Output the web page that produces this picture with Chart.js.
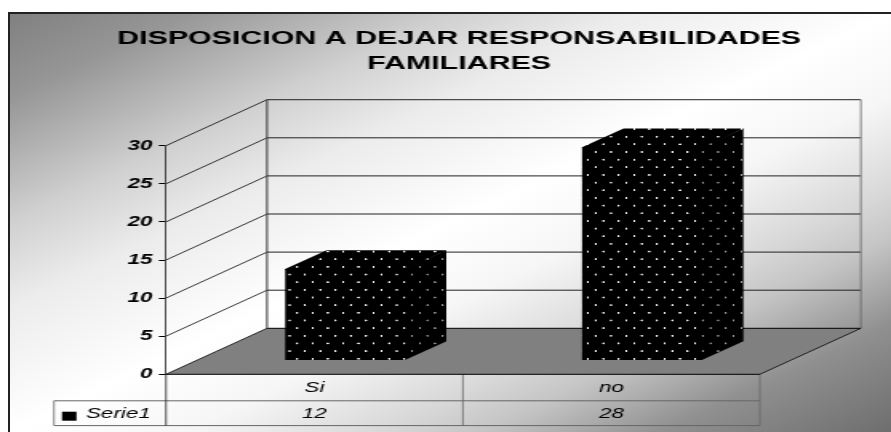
<!DOCTYPE html>
<html>
<head>
<meta charset="utf-8">
<style>
  html, body { margin: 0; padding: 0; background: #fff; }
  #frame {
    position: absolute; left: 8px; top: 12px; width: 881px; height: 418px;
    border-left: 2px solid #222; border-top: 2px solid #222;
    background: linear-gradient(to bottom right,
      #808080 0%, #969696 10%, #d0d0d0 25%, #ececec 35%, #ffffff 50%,
      #f6f6f6 60%, #d8d8d8 71%, #c4c4c4 77%, #909090 87%, #6e6e6e 100%);
  }
  #chart { position: absolute; left: 0; top: 0; }
</style>
</head>
<body>
<div id="frame"></div>
<!-- the original is a picture stretched sideways, so the canvas is too -->
<canvas id="chart" width="557" height="432" style="width:891px;height:432px"></canvas>
<script src="https://cdn.jsdelivr.net/npm/chart.js@4"></script>
<script>
const titleLines = ["DISPOSICION A DEJAR RESPONSABILIDADES", "FAMILIARES"];
const categories = ["Si", "no"];
const seriesName = "Serie1";
const seriesValues = [12, 28];
const yTicks = [0, 5, 10, 15, 20, 25, 30];

const FONT = "'Liberation Sans', Arial, sans-serif";
const STRETCH = 891 / 557;
// floor depth in canvas units
const DEPTH_X = 101 / STRETCH;
const DEPTH_Y = 46;
// where a bar sits on the floor, and how deep it is
const BAR_SHIFT_X = 30.5 / STRETCH;
const BAR_SHIFT_Y = 13.8;
const BAR_DX = 41.5 / STRETCH;
const BAR_DY = 18.7;

function dotPattern(ctx) {
  const tile = document.createElement("canvas");
  tile.width = 29;
  tile.height = 46;
  const t = tile.getContext("2d");
  t.fillStyle = "#000";
  t.fillRect(0, 0, 29, 46);
  t.fillStyle = "#fff";
  [[7, 11], [21.5, 34]].forEach(([x, y]) => {
    t.beginPath();
    t.ellipse(x, y, 2, 3, 0, 0, Math.PI * 2);
    t.fill();
  });
  const p = ctx.createPattern(tile, "repeat");
  // 29x46 tile comes down to 15.3 px square on screen
  p.setTransform(new DOMMatrix([0.33, 0, 0, 0.333, 164.4, 292.3]));
  return p;
}

function line(ctx, x1, y1, x2, y2, color, width) {
  ctx.strokeStyle = color;
  ctx.lineWidth = width;
  ctx.beginPath();
  ctx.moveTo(x1, y1);
  ctx.lineTo(x2, y2);
  ctx.stroke();
}

function poly(ctx, pts, fill) {
  ctx.fillStyle = fill;
  ctx.beginPath();
  pts.forEach(([x, y], i) => (i ? ctx.lineTo(x, y) : ctx.moveTo(x, y)));
  ctx.closePath();
  ctx.fill();
}

// floor, side wall and back wall
const wallsPlugin = {
  id: "walls",
  afterLayout(chart) {
    chart.titleBlock.left = 0;
    chart.titleBlock.right = 574;
  },
  beforeDatasetsDraw(chart) {
    const ctx = chart.ctx;
    const { left, right } = chart.chartArea;
    const y = chart.scales.y;
    const y0 = y.getPixelForValue(0);
    ctx.save();
    poly(ctx, [[left, y0], [left + DEPTH_X, y0 - DEPTH_Y], [right + DEPTH_X, y0 - DEPTH_Y], [right, y0]], "#808080");
    yTicks.forEach(v => {
      const py = y.getPixelForValue(v);
      if (v > 0) line(ctx, left, py, left + DEPTH_X, py - DEPTH_Y, "#000", 0.8);
      line(ctx, left + DEPTH_X, py - DEPTH_Y, right + DEPTH_X, py - DEPTH_Y, v === 0 ? "#000" : "#222", 1);
    });
    const yTop = y.getPixelForValue(30);
    line(ctx, left + DEPTH_X, yTop - DEPTH_Y, left + DEPTH_X, y0 - DEPTH_Y, "#333", 1);
    line(ctx, right + DEPTH_X, yTop - DEPTH_Y, right + DEPTH_X, y0 - DEPTH_Y, "#666", 0.8);
    line(ctx, left, y0, left + DEPTH_X, y0 - DEPTH_Y, "#000", 0.8);
    line(ctx, right, y0, right + DEPTH_X, y0 - DEPTH_Y, "#000", 0.8);
    ctx.restore();
  }
};

// the library draws the front of each bar, moved back onto the floor; sides and tops go with it
const barBlockPlugin = {
  id: "barBlock",
  beforeDatasetDraw(chart) {
    const ctx = chart.ctx;
    ctx.save();
    ctx.translate(BAR_SHIFT_X, -BAR_SHIFT_Y);
    const fill = chart.data.datasets[0].backgroundColor;
    chart.getDatasetMeta(0).data.forEach(bar => {
      const r = bar.x + bar.width / 2;
      const l = bar.x - bar.width / 2;
      // one px under the front face so no seam shows
      poly(ctx, [[l, bar.y + 1], [l, bar.y], [l + BAR_DX, bar.y - BAR_DY], [r + BAR_DX, bar.y - BAR_DY], [r, bar.y + 1]], fill);
      const side = [[r - 1, bar.y], [r, bar.y], [r + BAR_DX, bar.y - BAR_DY], [r + BAR_DX, bar.base - BAR_DY], [r, bar.base], [r - 1, bar.base]];
      poly(ctx, side, fill);
      poly(ctx, side, "rgba(0,0,0,0.4)");
    });
  },
  afterDatasetDraw(chart) {
    chart.ctx.restore();
  }
};

// data table under the plot
const dataTablePlugin = {
  id: "dataTable",
  afterDraw(chart) {
    const ctx = chart.ctx;
    const { left, right, bottom } = chart.chartArea;
    const x = chart.scales.x;
    const rowY = 400.8;
    const endY = 425.6;
    const legendLeft = 54 / STRETCH;
    const mid = (x.getPixelForValue(0) + x.getPixelForValue(1)) / 2;
    ctx.save();
    const grey = "#666";
    line(ctx, legendLeft, rowY, right, rowY, grey, 1);
    line(ctx, legendLeft, endY, right, endY, grey, 1);
    line(ctx, legendLeft, rowY, legendLeft, endY, grey, 0.8);
    line(ctx, right, bottom, right, endY, grey, 0.8);
    line(ctx, mid, bottom, mid, endY, grey, 0.8);
    line(ctx, left, bottom, left, endY, "#222", 0.8);
    line(ctx, left, bottom, right, bottom, "#000", 1);

    ctx.fillStyle = "#000";
    ctx.fillRect(62 / STRETCH, 411.7, 14.5 / STRETCH, 9);
    ctx.font = "italic 14px " + FONT;
    ctx.textBaseline = "middle";
    ctx.textAlign = "left";
    ctx.fillText(seriesName, 86 / STRETCH, 414);
    ctx.textAlign = "center";
    seriesValues.forEach((v, i) => ctx.fillText(String(v), x.getPixelForValue(i), 414));
    ctx.restore();
  }
};

const canvas = document.getElementById("chart");

new Chart(canvas, {
  type: "bar",
  data: {
    labels: categories,
    datasets: [{
      label: seriesName,
      data: seriesValues,
      backgroundColor: dotPattern(canvas.getContext("2d")),
      borderWidth: 0,
      categoryPercentage: 1,
      barPercentage: 0.403,
      clip: false
    }]
  },
  options: {
    responsive: false,
    animation: false,
    devicePixelRatio: 1,
    layout: { padding: { left: 0, right: 82, top: 0, bottom: 0 } },
    plugins: {
      legend: { display: false },
      tooltip: { enabled: false },
      title: {
        display: true,
        text: titleLines,
        color: "#000",
        font: { family: FONT, size: 19, weight: "bold", lineHeight: 1.316 },
        padding: { top: 26.5, bottom: 69.2 }
      }
    },
    scales: {
      x: {
        afterFit: s => { s.height = 57.7; },
        grid: { display: false },
        border: { display: false },
        ticks: {
          color: "#000",
          padding: -3,
          maxRotation: 0,
          font: { family: FONT, size: 14, style: "italic" }
        }
      },
      y: {
        min: 0,
        max: 30,
        afterFit: s => { s.width = 166 / STRETCH; },
        afterBuildTicks: s => { s.ticks = yTicks.map(value => ({ value })); },
        grid: { drawOnChartArea: false, color: "#000", tickLength: 4.5 },
        border: { color: "#222", width: 0.8 },
        ticks: {
          color: "#000",
          padding: 4,
          font: { family: FONT, size: 14, style: "italic", weight: "bold" }
        }
      }
    }
  },
  plugins: [wallsPlugin, barBlockPlugin, dataTablePlugin]
});
</script>
</body>
</html>
